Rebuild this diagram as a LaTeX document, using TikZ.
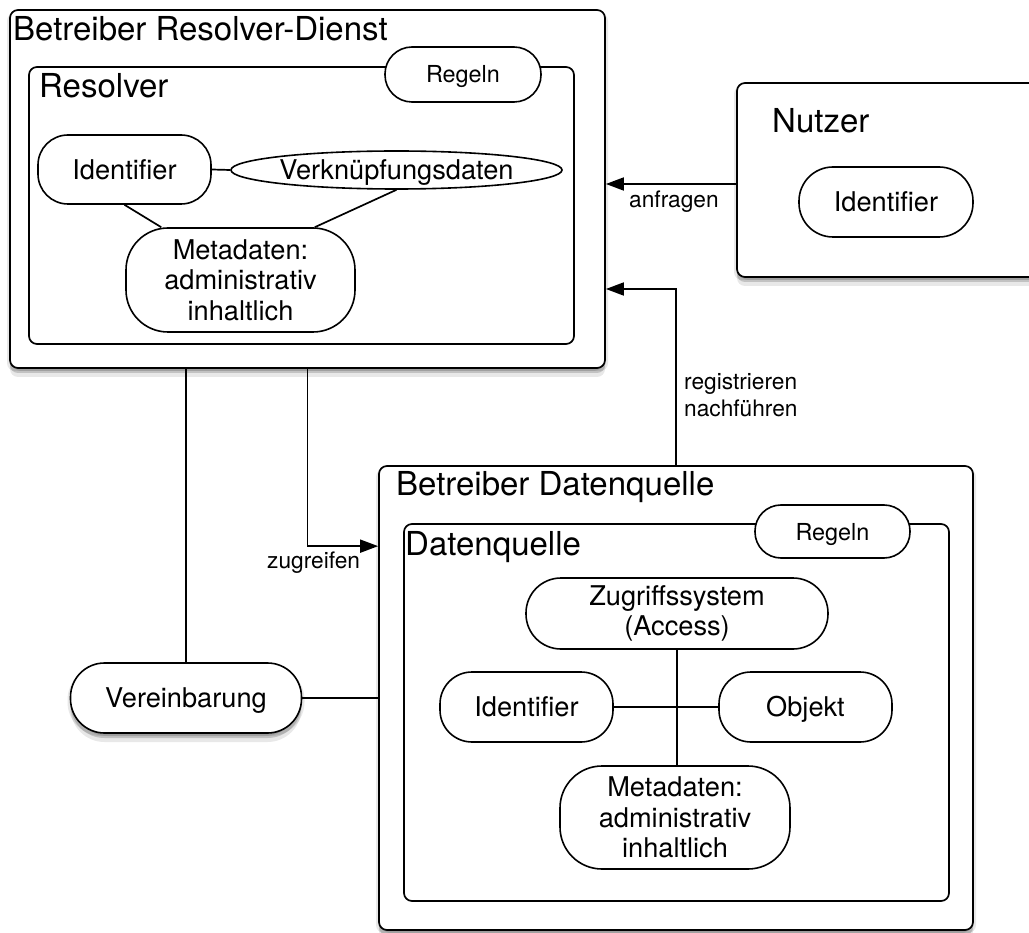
\documentclass[tikz,border=0pt]{standalone}
\usepackage{fontspec}
\setmainfont{TeX Gyre Heros}
\usetikzlibrary{shapes.geometric,arrows.meta,shadows,calc}
\newcommand\fsz[2]{\fontsize{#1}{#2}\selectfont}
\begin{document}
\begin{tikzpicture}[x=1pt,y=-1pt,
  ln/.style={line width=1.7pt},
  box/.style={draw, line width=1.7pt, fill=white, rounded corners=8pt, inner sep=0pt},
  pill/.style={draw, line width=1.6pt, fill=white, inner sep=0pt, align=center, font=\fsz{27.2}{30.5}},
  one/.style={text height=19.8pt, text depth=0pt},
  small/.style={font=\fsz{23.4}{27}, text height=17pt, text depth=0pt},
  ttl/.style={inner sep=0pt, anchor=base west, font=\fsz{33}{36}},
  lbl/.style={inner sep=0pt, anchor=base west, font=\fsz{22.7}{27}},
  arr/.style={line width=1.7pt, -{Triangle[length=18pt,width=13pt]}},
  shadowsoft/.style={
    drop shadow={shadow xshift=-3pt, shadow yshift=-3pt, opacity=0.09, fill=black},
    drop shadow={shadow xshift=3pt, shadow yshift=-3pt, opacity=0.09, fill=black},
    drop shadow={shadow xshift=0pt, shadow yshift=-9pt, opacity=0.09, fill=black},
    drop shadow={shadow xshift=0pt, shadow yshift=-1pt, opacity=0.09, fill=black},
    drop shadow={shadow xshift=0pt, shadow yshift=-5pt, opacity=0.16, fill=black}}
]
\useasboundingbox (0,0) rectangle (1029,933);
\fill[white] (0,0) rectangle (1029,933);

% Betreiber Resolver-Dienst
\node[box, shadowsoft, minimum width=595pt, minimum height=358pt] (resOuter) at (307.5,189) {};
\node[ttl] (resOuterT) at (13,41) {Betreiber Resolver-Dienst};
\node[box, minimum width=545pt, minimum height=277pt] (resInner) at (301.5,205.5) {};
\node[ttl] (resInnerT) at (39,98) {Resolver};
\node[pill, small, rounded corners=27pt, minimum width=156pt, minimum height=55pt] (regR) at (463,74.5) {Regeln};
\node[pill, one, rounded corners=30pt, minimum width=173pt, minimum height=69pt] (idR) at (124.5,169.5) {Identifier};
\node[ellipse, draw, line width=1.6pt, fill=white, inner sep=0pt, minimum width=323pt, minimum height=38pt, font=\fsz{27.2}{30.5}, one] (verk) at (396.5,170) {Verknüpfungsdaten};
\node[pill, rounded corners=42pt, minimum width=229pt, minimum height=104pt] (metaR) at (240.5,280) {Metadaten:\\administrativ\\inhaltlich};

% Nutzer
\node[box, shadowsoft, minimum width=303pt, minimum height=194pt] (nutzer) at (888.5,180) {};
\node[ttl] (nutzerT) at (772,133) {Nutzer};
\node[pill, one, rounded corners=34pt, minimum width=174pt, minimum height=70pt] (idN) at (886,202) {Identifier};

% Betreiber Datenquelle
\node[box, shadowsoft, minimum width=594pt, minimum height=464pt] (dqOuter) at (676,698) {};
\node[ttl] (dqOuterT) at (396,496) {Betreiber Datenquelle};
\node[box, minimum width=545pt, minimum height=377pt] (dqInner) at (676.5,712.5) {};
\node[ttl] (dqInnerT) at (405,555) {Datenquelle};
\node[pill, small, rounded corners=26pt, minimum width=155pt, minimum height=53pt] (regD) at (832.5,531.5) {Regeln};
\node[pill, rounded corners=35pt, minimum width=302pt, minimum height=71pt] (zug) at (677,613.5) {Zugriffssystem\\(Access)};
\node[pill, one, rounded corners=32pt, minimum width=173pt, minimum height=70pt] (idD) at (526.5,707) {Identifier};
\node[pill, one, rounded corners=32pt, minimum width=173pt, minimum height=70pt] (obj) at (805.5,707) {Objekt};
\node[pill, rounded corners=42pt, minimum width=230pt, minimum height=103pt] (metaD) at (675,817.5) {Metadaten:\\administrativ\\inhaltlich};

% Vereinbarung
\node[pill, one, shadowsoft, rounded corners=34pt, minimum width=231pt, minimum height=70pt] (verein) at (186,698) {Vereinbarung};

% connectors
\draw[ln] (idR.east) -- (verk.west);
\draw[ln] (idR.south) -- ([xshift=36pt]metaR.north west);
\draw[ln] (verk.south) -- ([xshift=-41pt]metaR.north east);
\draw[ln] (idD.east) -- (obj.west);
\draw[ln] (zug.south) -- (zug.south |- metaD.north);
\draw[ln] (verein.north) -- (verein.north |- resOuter.south);
\draw[ln] (verein.east) -- (dqOuter.west);
\draw[arr] (resOuter.south) |- ([yshift=-81pt]dqOuter.north west);
\draw[arr] ([yshift=-4pt]nutzer.west) -- ([yshift=-4pt]nutzer.west -| resOuter.east);
\draw[arr] (dqOuter.north) |- ([yshift=-100pt]resOuter.east);

% labels
\node[lbl] (lAnf) at (629,208) {anfragen};
\node[lbl] (lReg1) at (684,390) {registrieren};
\node[lbl] (lReg2) at (684,417) {nachführen};
\node[lbl] (lZug) at (267,568) {zugreifen};
\end{tikzpicture}
\end{document}
